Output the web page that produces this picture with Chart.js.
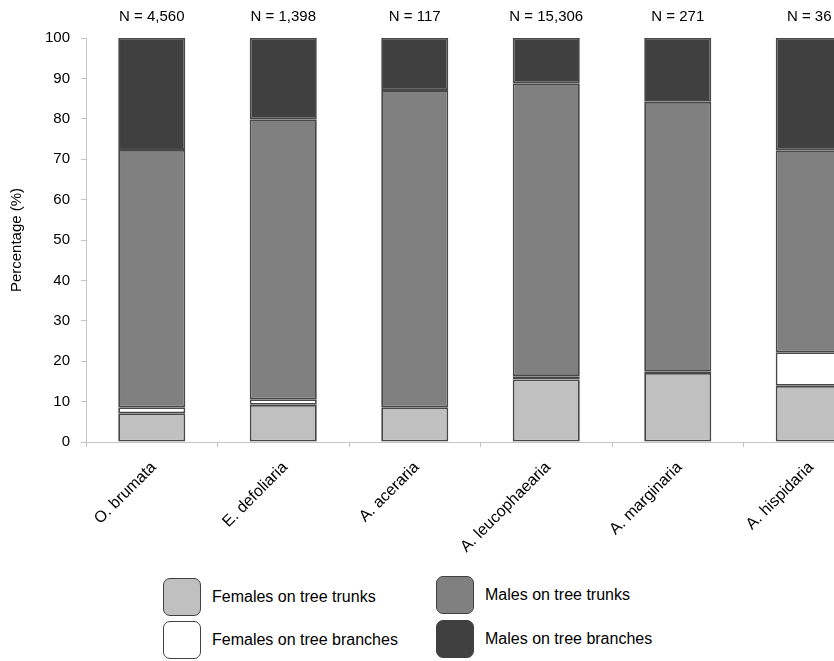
<!DOCTYPE html>
<html>
<head>
<meta charset="utf-8">
<script src="https://cdn.jsdelivr.net/npm/chart.js@4.4.1/dist/chart.umd.min.js"></script>
<style>
    html, body {
        margin: 0;
        padding: 0;
        background: #fff;
        overflow: hidden;
        width: 834px;
        height: 661px;
    }
    #wrap {
        position: absolute;
        left: 0;
        top: 0;
        width: 880px;
        height: 560px;
    }
    .legend {
        position: absolute;
        font-family: 'Liberation Sans', Arial, sans-serif;
        font-size: 16px;
        color: #000;
    }
    .legend .item {
        position: absolute;
        display: flex;
        align-items: center;
        white-space: nowrap;
    }
    .legend .box {
        width: 38px;
        height: 38px;
        border: 1.5px solid #404040;
        border-radius: 7px;
        margin-right: 11px;
        box-sizing: border-box;
    }
</style>
</head>
<body>
<div id="wrap"><canvas id="chart"></canvas></div>
<div class="legend" id="legend"></div>

<script>
// Data
const species = ['O. brumata', 'E. defoliaria', 'A. aceraria', 'A. leucophaearia', 'A. marginaria', 'A. hispidaria'];
const sampleSizes = ['4,560', '1,398', '117', '15,306', '271', '36'];
const femalesTrunks = [7.1, 9.2, 8.6, 15.5, 17.1, 13.9];
const femalesBranches = [1.5, 1.4, 0, 0.8, 0.3, 8.3];
const malesTrunks = [63.7, 69.3, 78.5, 72.5, 66.8, 50.0];
const malesBranches = [27.7, 20.1, 12.9, 11.2, 15.8, 27.8];
const yTicks = [0, 10, 20, 30, 40, 50, 60, 70, 80, 90, 100];

const seriesInfo = [
    { label: 'Females on tree trunks', data: femalesTrunks, color: '#c0c0c0' },
    { label: 'Females on tree branches', data: femalesBranches, color: '#ffffff' },
    { label: 'Males on tree trunks', data: malesTrunks, color: '#808080' },
    { label: 'Males on tree branches', data: malesBranches, color: '#404040' }
];

const FONT = "'Liberation Sans', Arial, sans-serif";

// N = ... labels above each bar
const sampleSizePlugin = {
    id: 'sampleSizes',
    afterDraw(chart) {
        const ctx = chart.ctx;
        const x = chart.scales.x;
        ctx.save();
        ctx.font = '15px ' + FONT;
        ctx.fillStyle = '#000';
        ctx.textAlign = 'center';
        ctx.textBaseline = 'middle';
        sampleSizes.forEach(function (n, i) {
            ctx.fillText('N = ' + n, x.getPixelForValue(i), 17);
        });
        ctx.restore();
    }
};

function initChart() {
    const ctx = document.getElementById('chart');

    const data = {
        labels: species,
        datasets: seriesInfo.map(function (s) {
            return {
                label: s.label,
                data: s.data,
                backgroundColor: s.color,
                borderColor: '#484848',
                borderWidth: 1.8,
                borderSkipped: false,
                barPercentage: 0.51,
                categoryPercentage: 1.0
            };
        })
    };

    const config = {
        type: 'bar',
        data: data,
        options: {
            responsive: true,
            maintainAspectRatio: false,
            animation: false,
            layout: {
                padding: { top: 38, right: 5, left: 0, bottom: 0 }
            },
            plugins: {
                legend: { display: false },
                tooltip: { enabled: false }
            },
            scales: {
                x: {
                    stacked: true,
                    afterFit: function (scale) { scale.height = 118; },
                    border: { color: '#c4c4c4' },
                    grid: {
                        offset: true,
                        drawOnChartArea: false,
                        tickLength: 5,
                        color: '#c4c4c4'
                    },
                    ticks: {
                        minRotation: 45,
                        maxRotation: 45,
                        padding: 11,
                        labelOffset: 2,
                        color: '#000',
                        font: { size: 16, family: FONT }
                    }
                },
                y: {
                    stacked: true,
                    min: 0,
                    max: 100,
                    afterFit: function (scale) { scale.width = 86; },
                    afterBuildTicks: function (scale) {
                        scale.ticks = yTicks.map(function (v) { return { value: v }; });
                    },
                    border: { color: '#c4c4c4' },
                    grid: {
                        drawOnChartArea: false,
                        tickLength: 5,
                        color: '#c4c4c4'
                    },
                    ticks: {
                        padding: 11,
                        color: '#000',
                        font: { size: 15, family: FONT }
                    },
                    title: {
                        display: true,
                        text: 'Percentage (%)',
                        color: '#000',
                        padding: { top: 8, bottom: 0 },
                        font: { size: 15, family: FONT }
                    }
                }
            }
        },
        plugins: [sampleSizePlugin]
    };

    new Chart(ctx, config);
}

// HTML legend, two columns
function buildLegend() {
    const legend = document.getElementById('legend');
    const positions = [
        { left: 163, top: 578 },   // Females on tree trunks
        { left: 163, top: 621 },   // Females on tree branches
        { left: 436, top: 576 },   // Males on tree trunks
        { left: 436, top: 620 }    // Males on tree branches
    ];
    seriesInfo.forEach(function (s, i) {
        const item = document.createElement('div');
        item.className = 'item';
        item.style.left = positions[i].left + 'px';
        item.style.top = positions[i].top + 'px';
        const box = document.createElement('div');
        box.className = 'box';
        box.style.background = s.color;
        const text = document.createElement('span');
        text.textContent = s.label;
        item.appendChild(box);
        item.appendChild(text);
        legend.appendChild(item);
    });
}

buildLegend();
initChart();
</script>
</body>
</html>
